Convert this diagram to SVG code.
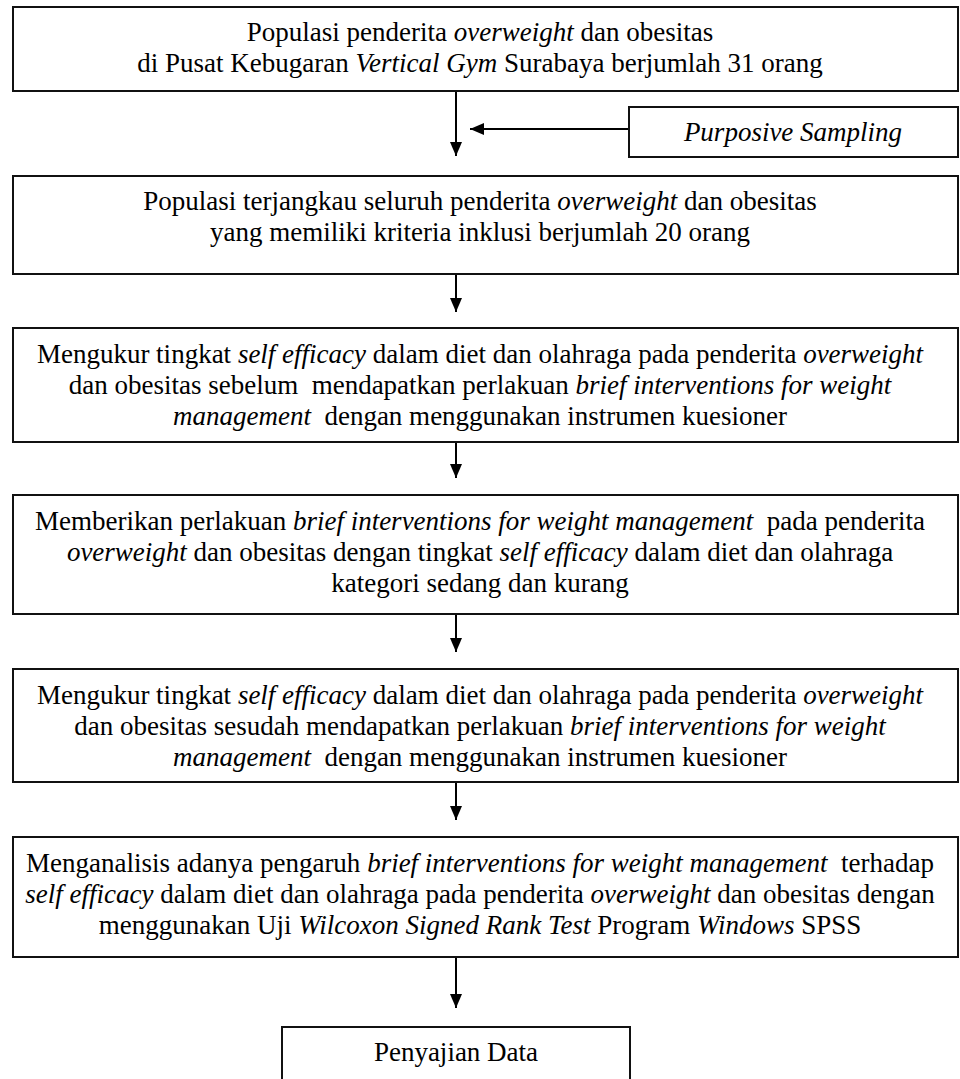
<svg xmlns="http://www.w3.org/2000/svg" width="960" height="1079" viewBox="0 0 960 1079">
<defs>
<style>
.box{fill:#fff;stroke:#111;stroke-width:2}
.t{font-family:"Liberation Serif","Times New Roman",serif;font-size:27px;fill:#000;text-anchor:middle;white-space:pre}
.i{font-style:italic}
.c{stroke:#000;stroke-width:2;fill:none}
</style>
<marker id="ah" viewBox="0 0 14 12" refX="14" refY="6" markerWidth="14" markerHeight="12" markerUnits="userSpaceOnUse" orient="auto">
<path d="M0,0 L14,6 L0,12 Z" fill="#000"/>
</marker>
</defs>
<rect width="960" height="1079" fill="#fff"/>
<g id="connectors">
<line class="c" x1="456" y1="91" x2="456" y2="156" marker-end="url(#ah)"/>
<line class="c" x1="629" y1="129" x2="470" y2="129" marker-end="url(#ah)"/>
<line class="c" x1="456" y1="274" x2="456" y2="312" marker-end="url(#ah)"/>
<line class="c" x1="456" y1="442" x2="456" y2="478" marker-end="url(#ah)"/>
<line class="c" x1="456" y1="614" x2="456" y2="652" marker-end="url(#ah)"/>
<line class="c" x1="456" y1="782" x2="456" y2="820" marker-end="url(#ah)"/>
<line class="c" x1="456" y1="957" x2="456" y2="1008" marker-end="url(#ah)"/>
</g>
<g id="n1">
<rect class="box" x="13" y="7" width="945" height="84"/>
<text class="t" x="480" y="41">Populasi penderita <tspan class="i">overweight</tspan> dan obesitas</text>
<text class="t" x="480" y="72">di Pusat Kebugaran <tspan class="i">Vertical Gym</tspan> Surabaya berjumlah 31 orang</text>
</g>
<g id="n_ps">
<rect class="box" x="629" y="107" width="329" height="50"/>
<text class="t i" x="793" y="141">Purposive Sampling</text>
</g>
<g id="n2">
<rect class="box" x="13" y="176" width="945" height="98"/>
<text class="t" x="480" y="210">Populasi terjangkau seluruh penderita <tspan class="i">overweight</tspan> dan obesitas</text>
<text class="t" x="480" y="241">yang memiliki kriteria inklusi berjumlah 20 orang</text>
</g>
<g id="n3">
<rect class="box" x="13" y="328" width="945" height="114"/>
<text class="t" x="480" y="362.5">Mengukur tingkat <tspan class="i">self efficacy</tspan> dalam diet dan olahraga pada penderita <tspan class="i">overweight</tspan></text>
<text class="t" x="480" y="393.5">dan obesitas sebelum  mendapatkan perlakuan <tspan class="i">brief interventions for weight</tspan></text>
<text class="t" x="480" y="424.5"><tspan class="i">management</tspan>  dengan menggunakan instrumen kuesioner</text>
</g>
<g id="n4">
<rect class="box" x="13" y="495" width="945" height="119"/>
<text class="t" x="480" y="530">Memberikan perlakuan <tspan class="i">brief interventions for weight management</tspan>  pada penderita</text>
<text class="t" x="480" y="561"><tspan class="i">overweight</tspan> dan obesitas dengan tingkat <tspan class="i">self efficacy</tspan> dalam diet dan olahraga</text>
<text class="t" x="480" y="592">kategori sedang dan kurang</text>
</g>
<g id="n5">
<rect class="box" x="13" y="669" width="945" height="113"/>
<text class="t" x="480" y="704">Mengukur tingkat <tspan class="i">self efficacy</tspan> dalam diet dan olahraga pada penderita <tspan class="i">overweight</tspan></text>
<text class="t" x="480" y="735">dan obesitas sesudah mendapatkan perlakuan <tspan class="i">brief interventions for weight</tspan></text>
<text class="t" x="480" y="766"><tspan class="i">management</tspan>  dengan menggunakan instrumen kuesioner</text>
</g>
<g id="n6">
<rect class="box" x="13" y="837" width="945" height="120"/>
<text class="t" x="480" y="872">Menganalisis adanya pengaruh <tspan class="i">brief interventions for weight management</tspan>  terhadap</text>
<text class="t" x="480" y="903"><tspan class="i">self efficacy</tspan> dalam diet dan olahraga pada penderita <tspan class="i">overweight</tspan> dan obesitas dengan</text>
<text class="t" x="480" y="934">menggunakan Uji <tspan class="i">Wilcoxon Signed Rank Test</tspan> Program <tspan class="i">Windows</tspan> SPSS</text>
</g>
<g id="n7">
<rect class="box" x="282" y="1027" width="348" height="62"/>
<text class="t" x="456" y="1061">Penyajian Data</text>
</g>
</svg>
